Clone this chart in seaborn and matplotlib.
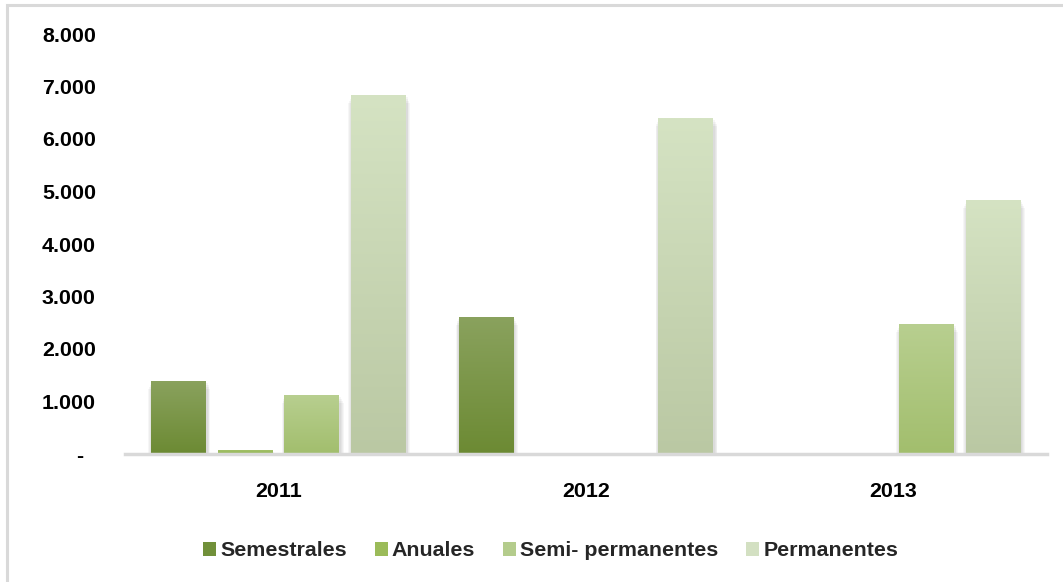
import numpy as np
import pandas as pd
import matplotlib
matplotlib.use("Agg")
import matplotlib.pyplot as plt
from matplotlib.patches import Rectangle, Patch
from matplotlib.colors import to_rgb
from matplotlib.ticker import FuncFormatter
import seaborn as sns

# Data
years = ["2011", "2012", "2013"]
types = ["Semestrales", "Anuales", "Semi- permanentes", "Permanentes"]
semestrales = [1400, 2610, 0]
anuales = [80, 0, 0]
semi_permanentes = [1130, 0, 2480]
permanentes = [6840, 6400, 4840]

# Gradient colours (top, bottom) per series, and flat legend colours
grad_top = ["#8aa25e", "#a6c36c", "#b8cf90", "#d5e3c3"]
grad_bottom = ["#6c8a33", "#93b556", "#a2be6d", "#bac8a3"]
legend_colors = ["#71903a", "#9bbb59", "#b4cc8c", "#d3e0c2"]

rows = []
for t, vals in zip(types, [semestrales, anuales, semi_permanentes, permanentes]):
    for y, v in zip(years, vals):
        rows.append({"year": y, "type": t, "value": v})
df = pd.DataFrame(rows)

sns.set_theme(style="white")
plt.rcParams["font.family"] = ["Liberation Sans", "DejaVu Sans"]
plt.rcParams["font.weight"] = "bold"
FS = 15.4

fig = plt.figure(figsize=(10.63, 5.82), dpi=100)
ax = fig.add_axes([125 / 1063, 1 - 454 / 582, 922 / 1063, 420 / 582])

sns.barplot(data=df, x="year", y="value", hue="type", order=years,
            hue_order=types, palette=legend_colors, saturation=1,
            width=0.867, gap=0.175, ax=ax, errorbar=None,
            linewidth=0, edgecolor="none")

ax.set_xlim(-0.5, 2.5)
ax.set_ylim(0, 8000)

# Soft side shadows and vertical gradients on each bar
grad = np.linspace(0, 1, 256).reshape(-1, 1)
for i, cont in enumerate(ax.containers):
    top = np.array(to_rgb(grad_top[i]))
    bot = np.array(to_rgb(grad_bottom[i]))
    img = (bot[None, None, :] * (1 - grad[..., None]) + top[None, None, :] * grad[..., None])
    for bar in cont:
        x, y0 = bar.get_x(), bar.get_y()
        w, h = bar.get_width(), bar.get_height()
        if h <= 0:
            bar.set_visible(False)
            continue
        for k in range(1, 5):
            d = 0.0028 * k
            sh = Rectangle((x - d + 0.002, y0), w + 2 * d, max(h - 40 * k, 0),
                           facecolor="#000000", alpha=0.035, lw=0, zorder=1)
            ax.add_patch(sh)
        bar.set_zorder(2)
        im = ax.imshow(img, extent=(x, x + w, y0, y0 + h), origin="lower",
                       aspect="auto", zorder=3, interpolation="bilinear")
        im.set_clip_path(bar)

ax.set_xlim(-0.5, 2.5)
ax.set_ylim(0, 8000)

# Axes styling
for s in ["left", "right", "top"]:
    ax.spines[s].set_visible(False)
ax.spines["bottom"].set_color("#d9d9d9")
ax.spines["bottom"].set_linewidth(2.5)
ax.spines["bottom"].set_zorder(4)
ax.set_xlabel("")
ax.set_ylabel("")
ax.grid(False)

ax.set_yticks(np.arange(0, 8001, 1000))
ax.yaxis.set_major_formatter(
    FuncFormatter(lambda v, p: "-  " if v == 0 else f"{int(v):,}".replace(",", ".")))
ax.tick_params(axis="y", length=0, pad=21, labelsize=FS, labelcolor="#000000")
ax.tick_params(axis="x", length=0, pad=20, labelsize=FS, labelcolor="#000000")
for lab in ax.get_xticklabels() + ax.get_yticklabels():
    lab.set_fontweight("bold")

# Legend
if ax.get_legend() is not None:
    ax.get_legend().remove()
handles = [Patch(facecolor=c, edgecolor="none") for c in legend_colors]
fig.legend(handles, types, loc="center", bbox_to_anchor=(0.518, 1 - 551 / 582),
           ncol=4, frameon=False, handlelength=0.6, handleheight=0.6,
           handletextpad=0.2, columnspacing=1.3,
           prop={"family": ["Liberation Sans"], "weight": "bold", "size": FS})

# Chart-area frame (left and top edges visible)
frame = Rectangle((7 / 1063, -0.05), 1.1, 1 - 5 / 582 + 0.05,
                  transform=fig.transFigure, fill=False,
                  edgecolor="#d9d9d9", lw=2.2, zorder=0)
fig.patches.append(frame)

fig.savefig("out.png", dpi=100)
